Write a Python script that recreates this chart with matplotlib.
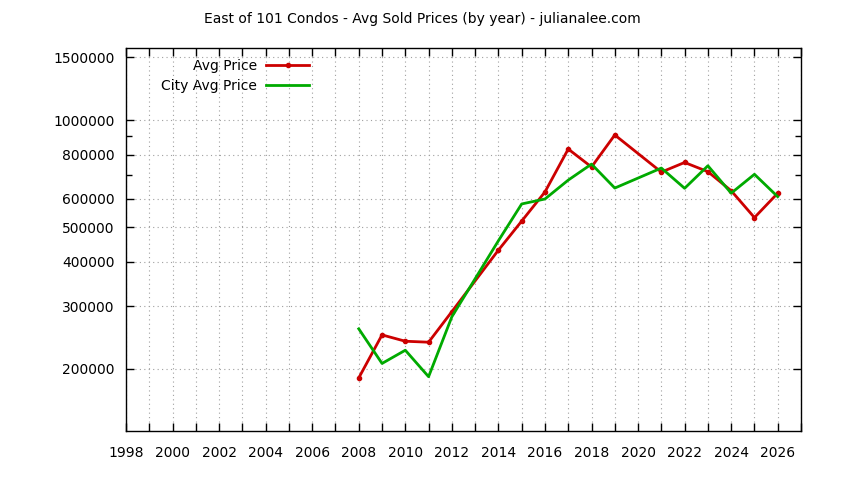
import matplotlib
matplotlib.use("Agg")
import matplotlib.pyplot as plt
import numpy as np
from matplotlib.ticker import FixedLocator, NullFormatter, MultipleLocator, FuncFormatter

# datos (sin datos en 2013 ni 2020)
anios_avg = [2008, 2009, 2010, 2011, 2012, 2014, 2015, 2016, 2017, 2018, 2019,
             2021, 2022, 2023, 2024, 2025, 2026]
avg_price = [188500, 249000, 239000, 237500, 289500, 431000, 520000, 628000,
             829000, 738000, 908000, 714000, 760000, 716000, 633000, 532000, 623000]

anios_city = [2008, 2009, 2010, 2011, 2012, 2014, 2015, 2016, 2017, 2018, 2019,
              2021, 2022, 2023, 2024, 2025, 2026]
city_price = [259000, 207000, 225500, 190000, 280000, 458000, 581000, 600000,
              678000, 752000, 644000, 733000, 643000, 744000, 623000, 704000, 609000]

y_ticks = [200000, 300000, 400000, 500000, 600000, 800000, 1000000, 1500000]
y_minor = [700000, 900000]

fig = plt.figure(figsize=(8.44, 4.8), dpi=100)
ax = fig.add_axes([126/844, 1 - 431/480, 675/844, 383/480])

ax.plot(anios_avg, avg_price, color='#cc0000', lw=2, marker='o', ms=3, label='Avg Price')
ax.plot(anios_city, city_price, color='#00aa00', lw=2, label='City Avg Price')

ax.set_yscale('log')
ax.set_ylim(133700, 1594000)
ax.set_xlim(1998, 2027)

ax.yaxis.set_major_locator(FixedLocator(y_ticks))
ax.yaxis.set_major_formatter(FuncFormatter(lambda v, p: '%d' % v))
ax.yaxis.set_minor_locator(FixedLocator(y_minor))
ax.yaxis.set_minor_formatter(NullFormatter())

ax.xaxis.set_major_locator(MultipleLocator(2))
ax.xaxis.set_minor_locator(MultipleLocator(1))

ax.tick_params(which='both', direction='in', top=True, right=True, labelsize=10, width=1)
ax.tick_params(which='major', length=6)
ax.tick_params(which='minor', length=6)
ax.tick_params(axis='y', which='minor', length=4)
ax.tick_params(axis='x', pad=11)
ax.tick_params(axis='y', pad=8)

ax.grid(True, which='major', color='#a0a0a0', linestyle=(0, (1, 3)), lw=0.8)
ax.grid(True, which='minor', axis='x', color='#a0a0a0', linestyle=(0, (1, 3)), lw=0.8)

for s in ax.spines.values():
    s.set_linewidth(1)

ax.legend(loc='upper left', bbox_to_anchor=(0.033, 1.004), markerfirst=False, frameon=False,
          handlelength=3.1, handletextpad=0.7, fontsize=10, labelspacing=0.45)

fig.text(0.5, 1 - 19/480, 'East of 101 Condos - Avg Sold Prices (by year) - julianalee.com',
         ha='center', va='center', fontsize=10)

fig.savefig('out.png', dpi=100)
